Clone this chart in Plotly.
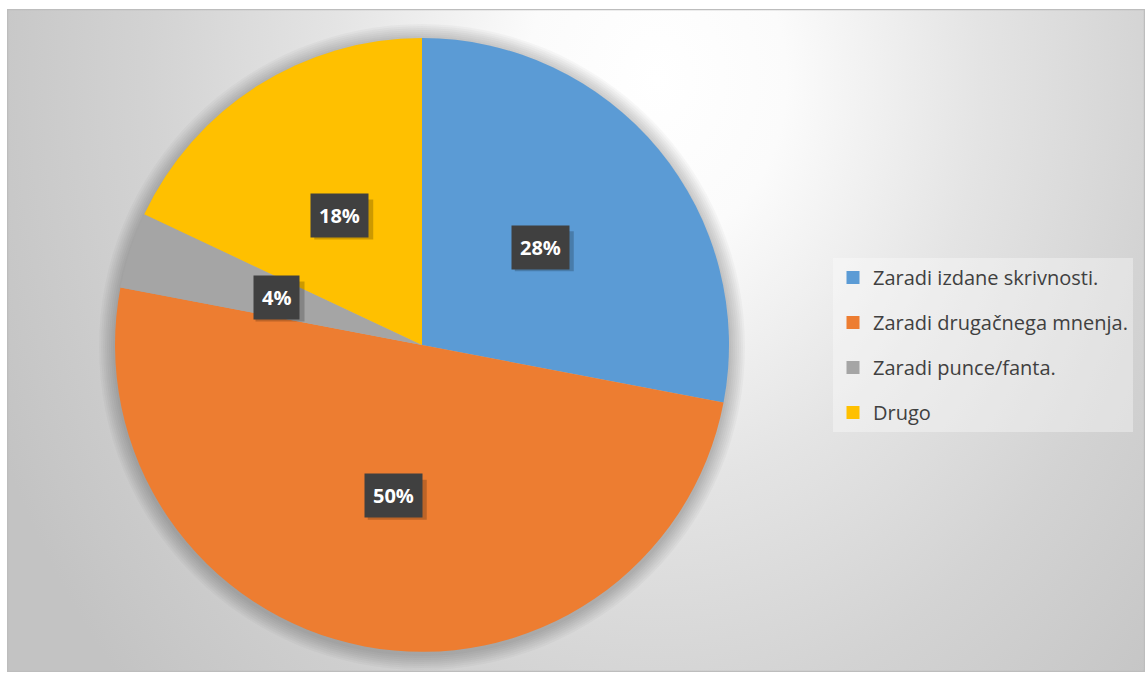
import base64
import math
import plotly.graph_objects as go

# ---- data ----
labels = ["Zaradi izdane skrivnosti.", "Zaradi drugačnega mnenja.", "Zaradi punce/fanta.", "Drugo"]
values = [28, 50, 4, 18]
colors = ["#5B9BD5", "#ED7D31", "#A5A5A5", "#FFC000"]

W, H = 1145, 675
# chart area (pixels)
AX0, AY0, AX1, AY1 = 7, 9, 1145, 672
# pie geometry (pixels)
CX, CY, R = 422, 345, 307

GW, GH = AX1 - AX0, AY1 - AY0
svg = f"""<svg xmlns='http://www.w3.org/2000/svg' width='{GW}' height='{GH}' viewBox='0 0 {GW} {GH}' preserveAspectRatio='none'>
<defs><radialGradient id='g' gradientUnits='userSpaceOnUse' cx='0' cy='0' r='1'
 gradientTransform='translate(650 70) scale(720 900)'>
<stop offset='0' stop-color='#ffffff'/><stop offset='0.18' stop-color='#fbfbfb'/>
<stop offset='0.45' stop-color='#e4e4e4'/><stop offset='0.7' stop-color='#d3d3d3'/>
<stop offset='1' stop-color='#c3c3c3'/>
</radialGradient></defs>
<rect x='0' y='0' width='{GW}' height='{GH}' fill='url(#g)'/>
<rect x='0.5' y='0.5' width='{GW-1}' height='{GH-1}' fill='none' stroke='#bdbdbd' stroke-width='1.5'/>
</svg>"""
src = "data:image/svg+xml;base64," + base64.b64encode(svg.encode()).decode()

fig = go.Figure()
fig.add_trace(go.Pie(
    labels=labels, values=values, sort=False, direction="clockwise", rotation=0,
    marker=dict(colors=colors, line=dict(width=0)),
    textinfo="none", hoverinfo="label+percent", showlegend=False,
    domain=dict(x=[(CX - R) / W, (CX + R) / W], y=[1 - (CY + R) / H, 1 - (CY - R) / H]),
))

for lab, col in zip(labels, colors):
    fig.add_trace(go.Scatter(x=[None], y=[None], mode="markers", name=lab, legendgroup=lab,
                             marker=dict(symbol="square", size=13, color=col)))

# soft pie shadow
shapes = []
for dr in range(16, 0, -2):
    shapes.append(dict(type="circle", xref="paper", yref="paper", xsizemode="pixel", ysizemode="pixel",
                       xanchor=CX / W, yanchor=1 - (CY + 2) / H,
                       x0=-(R + dr), x1=R + dr, y0=-(R + dr), y1=R + dr,
                       line=dict(width=0), fillcolor="rgba(0,0,0,0.026)", layer="below"))

# data labels at half radius along each slice's mid angle
annotations = []
total = sum(values)
cum = 0
for v in values:
    mid = (cum + v / 2) / total * 2 * math.pi
    cum += v
    px = CX + 0.5 * R * math.sin(mid)
    py = CY - 0.5 * R * math.cos(mid)
    txt = f"{round(v / total * 100)}%"
    bw = 10 * len(txt) + 29
    # drop shadow of the label box
    shapes.append(dict(type="rect", xref="paper", yref="paper", xsizemode="pixel", ysizemode="pixel",
                       xanchor=(px + 4) / W, yanchor=1 - (py + 4) / H,
                       x0=-bw / 2, x1=bw / 2, y0=-20, y1=20,
                       line=dict(width=0), fillcolor="rgba(0,0,0,0.2)", layer="above"))
    annotations.append(dict(x=px / W, y=1 - py / H, xref="paper", yref="paper",
                            xanchor="center", yanchor="middle",
                            text=f"<b>{txt}</b>", showarrow=False, borderpad=8,
                            font=dict(family="Open Sans", size=20, color="white"),
                            bgcolor="#404040"))

fig.update_layout(
    width=W, height=H, margin=dict(l=0, r=0, t=0, b=0, autoexpand=False),
    paper_bgcolor="white", plot_bgcolor="rgba(0,0,0,0)",
    xaxis=dict(visible=False), yaxis=dict(visible=False),
    images=[dict(source=src, xref="paper", yref="paper", x=AX0 / W, y=1 - AY0 / H,
                 sizex=GW / W, sizey=GH / H, sizing="stretch",
                 xanchor="left", yanchor="top", layer="below")],
    shapes=shapes,
    annotations=annotations,
    legend=dict(x=833 / W, y=1 - 258 / H, xanchor="left", yanchor="top",
                bgcolor="rgba(255,255,255,0.35)", borderwidth=0, tracegroupgap=16,
                font=dict(family="Open Sans", size=20, color="#404040")),
    showlegend=True,
)

fig.write_html("out.html")
